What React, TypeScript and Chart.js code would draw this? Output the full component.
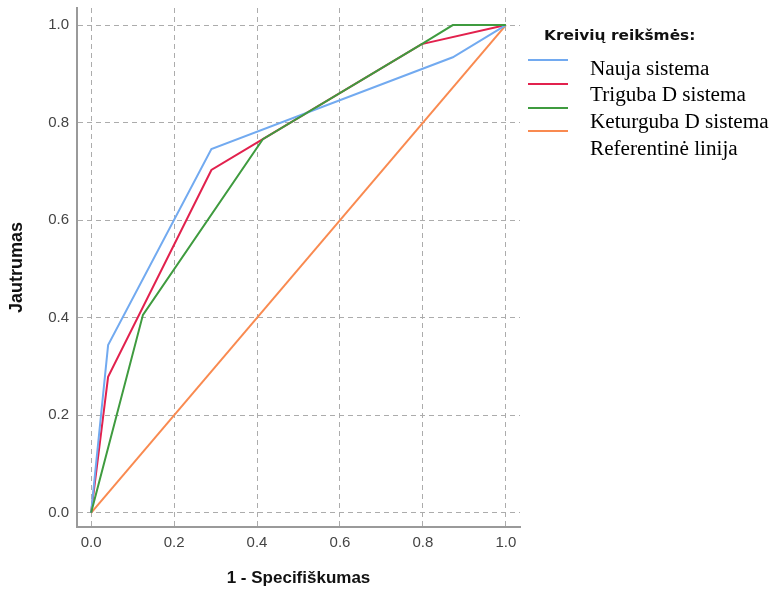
import React, { useEffect, useRef } from "react";
import { Chart, registerables } from "chart.js";

Chart.register(...registerables);

const tickValues = [0, 0.2, 0.4, 0.6, 0.8, 1.0];

const seriesNames = ["Nauja sistema", "Triguba D sistema", "Keturguba D sistema", "Referentinė linija"];
const legendTitle = "Kreivių reikšmės:";

const naujaX = [0, 0.041, 0.29, 0.872, 1];
const naujaY = [0, 0.344, 0.746, 0.934, 1];

const trigubaX = [0, 0.041, 0.29, 0.414, 0.797, 1];
const trigubaY = [0, 0.279, 0.703, 0.766, 0.961, 1];

const keturgubaX = [0, 0.125, 0.414, 0.797, 0.872, 1];
const keturgubaY = [0, 0.406, 0.766, 0.961, 1, 1];

const refX = [0, 1];
const refY = [0, 1];

const colors = ["#72aaf0", "#e2214d", "#3f9b3f", "#f98a50"];

const toPoints = (xs: number[], ys: number[]) => xs.map((x, i) => ({ x, y: ys[i] }));

function drawStretched(ctx: CanvasRenderingContext2D, text: string, x: number, y: number, sx: number) {
  ctx.save();
  ctx.translate(x, y);
  ctx.scale(sx, 1);
  ctx.fillText(text, 0, 0);
  ctx.restore();
}

const legendPlugin = {
  id: "customLegend",
  afterDraw(chart: any) {
    const ctx: CanvasRenderingContext2D = chart.ctx;
    ctx.save();
    ctx.fillStyle = "#111";
    ctx.textBaseline = "alphabetic";
    ctx.textAlign = "left";
    ctx.font = "bold 14px 'DejaVu Sans', sans-serif";
    drawStretched(ctx, legendTitle, 544, 40, 1.1);

    const swatchY = [60, 84, 108, 131];
    colors.forEach((c, i) => {
      ctx.strokeStyle = c;
      ctx.lineWidth = 2;
      ctx.beginPath();
      ctx.moveTo(528, swatchY[i]);
      ctx.lineTo(568, swatchY[i]);
      ctx.stroke();
    });

    ctx.font = "20px 'Liberation Serif', 'Times New Roman', serif";
    ctx.fillStyle = "#000";
    const labelBase = [75, 101, 128, 155];
    seriesNames.forEach((n, i) => {
      drawStretched(ctx, n, 590, labelBase[i], 1.06);
    });
    ctx.restore();
  },
};

export default function App() {
  const ref = useRef<HTMLCanvasElement | null>(null);

  useEffect(() => {
    if (!ref.current) return;
    const gridColor = "#acacac";
    const chart = new Chart(ref.current, {
      type: "line",
      data: {
        datasets: [
          { label: seriesNames[0], data: toPoints(naujaX, naujaY), borderColor: colors[0], order: 1 },
          { label: seriesNames[1], data: toPoints(trigubaX, trigubaY), borderColor: colors[1], order: 2 },
          { label: seriesNames[2], data: toPoints(keturgubaX, keturgubaY), borderColor: colors[2], order: 0 },
          { label: seriesNames[3], data: toPoints(refX, refY), borderColor: colors[3], order: 3 },
        ].map((d) => ({
          ...d,
          borderWidth: 2,
          pointRadius: 0,
          tension: 0,
          fill: false,
        })),
      },
      options: {
        animation: false,
        responsive: true,
        maintainAspectRatio: false,
        layout: { padding: { top: 8, right: 254, left: 0, bottom: 0 } },
        plugins: { legend: { display: false }, tooltip: { enabled: false } },
        scales: {
          x: {
            type: "linear",
            min: -0.034,
            max: 1.034,
            afterBuildTicks: (s: any) => {
              s.ticks = tickValues.map((v) => ({ value: v }));
            },
            afterFit: (s: any) => {
              s.height = 63;
              s.paddingLeft = 0;
              s.paddingRight = 0;
            },
            grid: { color: gridColor, lineWidth: 1, drawTicks: false },
            border: { display: true, color: "#9a9a9a", width: 2, dash: [5, 4] },
            ticks: {
              font: { family: "'Liberation Sans', Arial, sans-serif", size: 15 },
              color: "#444",
              padding: 7,
              maxRotation: 0,
              callback: (v: any) => Number(v).toFixed(1),
            },
            title: {
              display: true,
              text: "1 - Specifiškumas",
              font: { family: "'Liberation Sans', Arial, sans-serif", size: 17, weight: "bold" },
              color: "#111",
              padding: { top: 0, bottom: 1 },
            },
          },
          y: {
            type: "linear",
            min: -0.029,
            max: 1.035,
            afterBuildTicks: (s: any) => {
              s.ticks = tickValues.map((v) => ({ value: v }));
            },
            afterFit: (s: any) => {
              s.width = 77;
              s.paddingTop = 0;
              s.paddingBottom = 0;
            },
            grid: { color: gridColor, lineWidth: 1, drawTicks: false },
            border: { display: true, color: "#9a9a9a", width: 2, dash: [5, 4] },
            ticks: {
              font: { family: "'Liberation Sans', Arial, sans-serif", size: 15 },
              color: "#444",
              padding: 8,
              callback: (v: any) => Number(v).toFixed(1),
            },
            title: {
              display: true,
              text: "Jautrumas",
              font: { family: "'Liberation Sans', Arial, sans-serif", size: 18, weight: "bold" },
              color: "#111",
              padding: { top: 6, bottom: 0 },
            },
          },
        },
      },
      plugins: [legendPlugin],
    } as any);
    return () => chart.destroy();
  }, []);

  return (
    <div style={{ position: "absolute", left: 0, top: 0, width: 774, height: 590, background: "#fff" }}>
      <canvas ref={ref} />
    </div>
  );
}
